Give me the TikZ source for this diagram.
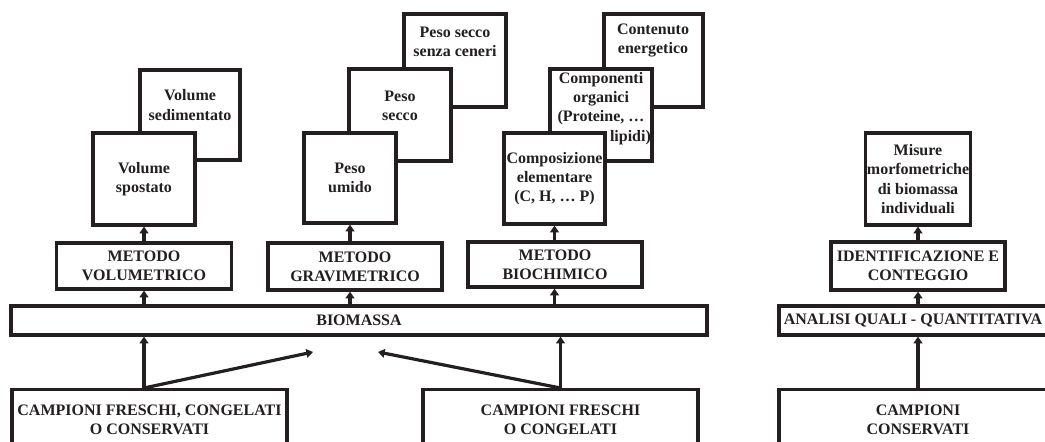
\documentclass[tikz,border=0pt]{standalone}
\usepackage{fontspec}
\setmainfont{Liberation Serif}
\usetikzlibrary{arrows.meta}
\definecolor{ink}{HTML}{231F20}
\tikzset{
  box/.style={draw=ink, fill=white, line width=2.4pt, inner sep=1pt, align=center,
    text=ink, font=\bfseries\fontsize{12}{14.4}\selectfont},
  txt/.style={inner sep=0pt, align=center, text=ink, font=\bfseries\fontsize{12}{14.4}\selectfont},
  sz/.style 2 args={minimum width=#1*0.75pt, minimum height=#2*0.75pt},
  arr/.style={draw=ink, line width=2.4pt, -{Triangle[length=5pt,width=6.5pt]}}
}
\begin{document}
\begin{tikzpicture}[x=0.75pt,y=-0.75pt]
\useasboundingbox (0,0) rectangle (1045,442);
\clip (0,0) rectangle (1045,442);

% Metodo volumetrico
\node[box, sz={100}{90}] (sedim) at (190,115) {};
\node[txt] (sedimT) at (190,105) {Volume\\sedimentato};
\node[box, sz={102}{92}] (spost) at (144,179) {Volume\\spostato};
\node[box, sz={175}{46}] (volu) at (144,266) {METODO\\VOLUMETRICO};

% Metodo gravimetrico
\node[box, sz={102}{93}] (cener) at (455,60.5) {};
\node[txt] (cenerT) at (455,41.5) {Peso secco\\senza ceneri};
\node[box, sz={102}{92}] (secco) at (400,115) {};
\node[txt] (seccoT) at (400,106) {Peso\\secco};
\node[box, sz={92}{90}] (umido) at (350,178) {Peso\\umido};
\node[box, sz={174}{47}] (grav) at (355,266.5) {METODO\\GRAVIMETRICO};

% Metodo biochimico
\node[box, sz={99}{93}] (energ) at (653.5,60.5) {};
\node[txt] (energT) at (653,40.5) {Contenuto\\energetico};
\node[box, sz={102}{92}] (organ) at (601,115) {};
\node[txt] (organT) at (601,108.5) {Componenti\\organici\\(Proteine, …\\\hspace*{13.5pt}\rlap{lipidi)}};
\node[box, sz={101}{91}] (compo) at (554.5,178.5) {Composizione\\elementare\\(C, H, … P)};
\node[box, sz={174}{45}] (bioch) at (555,264.5) {METODO\\BIOCHIMICO};

% Biomassa e campioni
\node[box, sz={696}{29}] (biom) at (359,320.5) {BIOMASSA};
\node[box, sz={275}{60}, anchor=north] (fresc) at (149.5,388) {CAMPIONI FRESCHI, CONGELATI\\O CONSERVATI};
\node[box, sz={275}{60}, anchor=north] (cong) at (560.5,388) {CAMPIONI FRESCHI\\O CONGELATI};
\coordinate (tipL) at (313,352);
\coordinate (tipR) at (378,352);

% Analisi quali - quantitativa
\node[box, sz={102}{92}] (misur) at (918,179) {Misure\\morfometriche\\di biomassa\\individuali};
\node[box, sz={174}{48}] (ident) at (918,266) {IDENTIFICAZIONE E\\CONTEGGIO};
\node[box, sz={268}{29}] (anal) at (913,320.5) {ANALISI QUALI - QUANTITATIVA};
\node[box, sz={278}{60}, anchor=north] (cons) at (918,388) {CAMPIONI\\CONSERVATI};

% Frecce
\draw[arr] (biom.north -| volu.south) -- (volu.south);
\draw[arr] (volu.north -| spost.south) -- (spost.south);
\draw[arr] (biom.north -| umido.south) -- (grav.south -| umido.south);
\draw[arr] (grav.north -| umido.south) -- (umido.south);
\draw[arr] (biom.north -| compo.south) -- (bioch.south -| compo.south);
\draw[arr] (bioch.north -| compo.south) -- (compo.south);
\draw[arr] (fresc.north -| volu.south) -- (biom.south -| volu.south);
\draw[arr] (fresc.north -| volu.south) -- (tipL);
\draw[arr] (cong.north) -- (biom.south -| cong.north);
\draw[arr] (cong.north) -- (tipR);
\draw[arr] (cons.north) -- (anal.south -| cons.north);
\draw[arr] (anal.north -| ident.south) -- (ident.south);
\draw[arr] (ident.north) -- (misur.south);
\end{tikzpicture}
\end{document}
